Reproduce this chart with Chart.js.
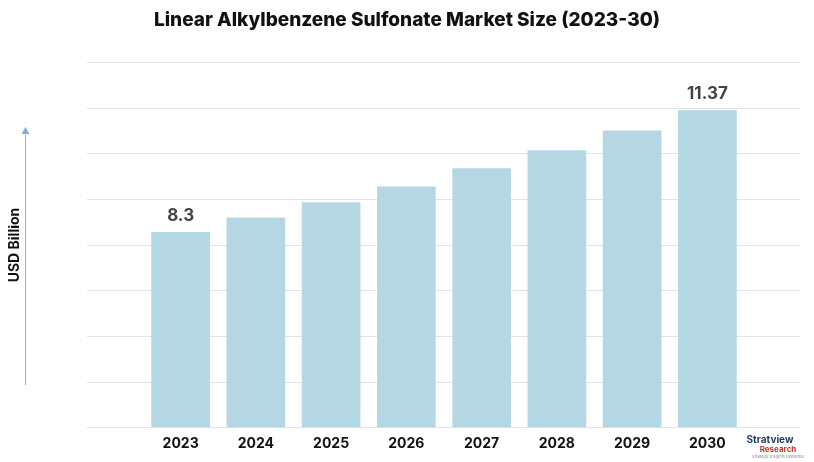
<!DOCTYPE html>
<html>
<head>
<meta charset="utf-8">
<script src="https://cdn.jsdelivr.net/npm/chart.js@4"></script>
<style>
  body { margin: 0; background: #fff; }
  #wrap { width: 814px; height: 462px; position: relative; }
</style>
</head>
<body>
<div id="wrap"><canvas id="chart" width="814" height="462"></canvas></div>
<script>
// --- data ---
const years = ["2023", "2024", "2025", "2026", "2027", "2028", "2029", "2030"];
const marketSize = [8.3, 8.67, 9.05, 9.45, 9.91, 10.36, 10.86, 11.37];
const shownLabels = ["8.3", "", "", "", "", "", "", "11.37"];

const FONT = "Inter, 'Open Sans', sans-serif";

// gridlines wider than the plot area, plus axis title, arrow, labels, logo
const decor = {
  id: "decor",
  beforeDatasetsDraw(chart) {
    const { ctx } = chart;
    const y = chart.scales.y;
    ctx.save();
    ctx.strokeStyle = "#e3e3e3";
    ctx.lineWidth = 1;
    y.ticks.forEach(t => {
      const py = Math.round(y.getPixelForValue(t.value)) + 0.5;
      ctx.beginPath();
      ctx.moveTo(87, py);
      ctx.lineTo(800, py);
      ctx.stroke();
    });
    ctx.restore();
  },
  afterDraw(chart) {
    const { ctx } = chart;
    const meta = chart.getDatasetMeta(0);
    ctx.save();
    // value labels
    ctx.fillStyle = "#444";
    ctx.font = "bold 17px " + FONT;
    ctx.textAlign = "center";
    ctx.textBaseline = "bottom";
    meta.data.forEach((bar, i) => {
      if (shownLabels[i]) ctx.fillText(shownLabels[i], bar.x, bar.y - 8);
    });
    // title
    ctx.fillStyle = "#111";
    ctx.font = "800 19px " + FONT;
    ctx.textBaseline = "middle";
    ctx.fillText("Linear Alkylbenzene Sulfonate Market Size (2023-30)", 407, 20);
    // y axis title
    ctx.translate(15, 245);
    ctx.rotate(-Math.PI / 2);
    ctx.font = "bold 14px " + FONT;
    ctx.fillText("USD Billion", 0, 0);
    ctx.setTransform(1, 0, 0, 1, 0, 0);
    // arrow
    ctx.strokeStyle = "#7fb2d0";
    ctx.fillStyle = "#7fb2d0";
    ctx.lineWidth = 1;
    ctx.beginPath();
    ctx.moveTo(25.5, 385);
    ctx.lineTo(25.5, 132);
    ctx.stroke();
    ctx.beginPath();
    ctx.moveTo(21.5, 134);
    ctx.lineTo(25.5, 127);
    ctx.lineTo(29.5, 134);
    ctx.fill();
    // logo
    ctx.textAlign = "center";
    ctx.fillStyle = "#1f3a5f";
    ctx.font = "bold 10px " + FONT;
    ctx.fillText("Stratview", 770, 440);
    ctx.fillStyle = "#c0392b";
    ctx.font = "bold 8px " + FONT;
    ctx.fillText("Research", 778, 450);
    ctx.fillStyle = "#888";
    ctx.font = "4px " + FONT;
    ctx.fillText("Strategic Insights Delivered", 778, 457);
    ctx.restore();
  }
};

new Chart(document.getElementById("chart"), {
  type: "bar",
  data: {
    labels: years,
    datasets: [{
      data: marketSize,
      backgroundColor: "#b5d7e4",
      categoryPercentage: 0.78,
      barPercentage: 1
    }]
  },
  options: {
    responsive: false,
    animation: false,
    layout: { padding: { left: 143, right: 69, top: 62, bottom: 10 } },
    plugins: { legend: { display: false }, tooltip: { enabled: false } },
    scales: {
      y: {
        display: false,
        min: 3.39,
        max: 12.582,
        ticks: { stepSize: 1.149 }
      },
      x: {
        grid: { display: false },
        border: { display: false },
        ticks: { color: "#111", font: { family: FONT, size: 14, weight: "bold" }, padding: 0 }
      }
    }
  },
  plugins: [decor]
});
</script>
</body>
</html>
